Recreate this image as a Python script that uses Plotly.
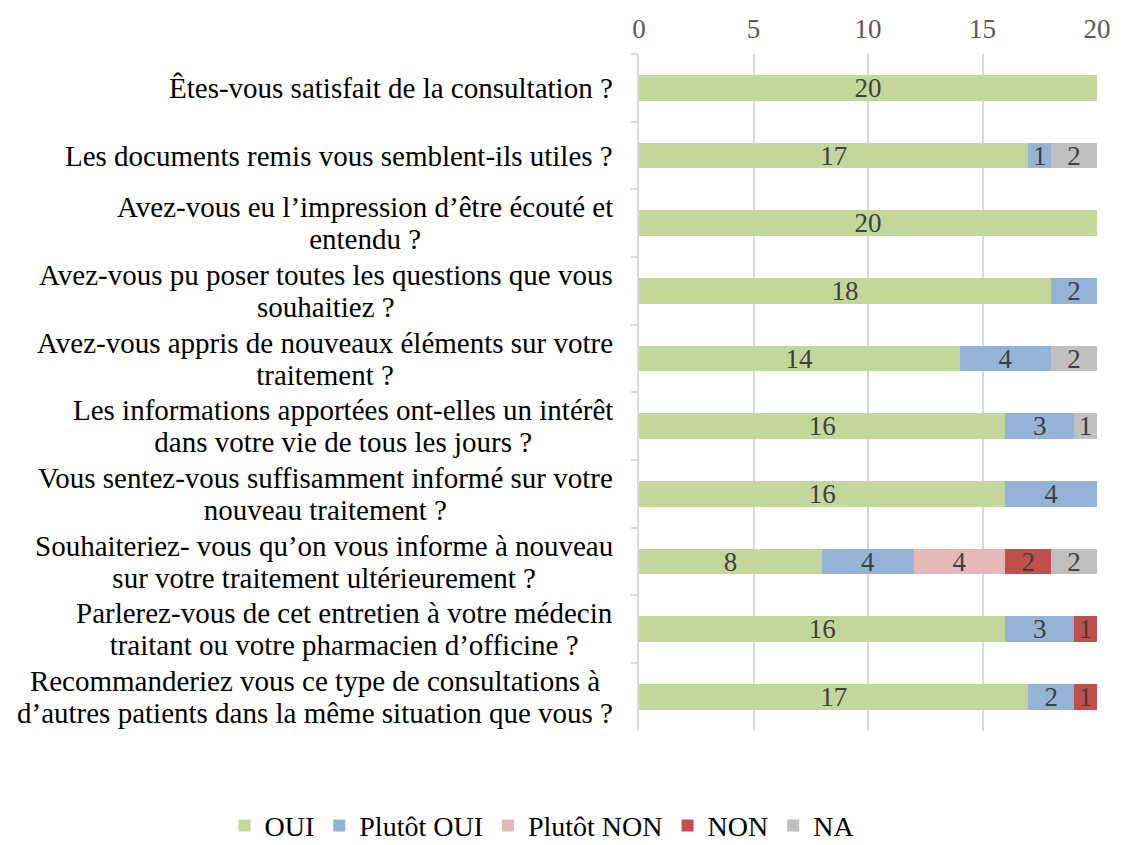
import plotly.graph_objects as go

categories = [
    "Êtes-vous satisfait de la consultation ?",
    "Les documents remis vous semblent-ils utiles ?",
    "Avez-vous eu l’impression d’être écouté et<br>entendu ?",
    "Avez-vous pu poser toutes les questions que vous<br>souhaitiez ?",
    "Avez-vous appris de nouveaux éléments sur votre<br>traitement ?",
    "Les informations apportées ont-elles un intérêt<br>dans votre vie de tous les jours ?",
    "Vous sentez-vous suffisamment informé sur votre<br>nouveau traitement ?",
    "Souhaiteriez- vous qu’on vous informe à nouveau<br>sur votre traitement ultérieurement ?",
    "Parlerez-vous de cet entretien à votre médecin<br>traitant ou votre pharmacien d’officine ?",
    "Recommanderiez vous ce type de consultations à<br>d’autres patients dans la même situation que vous ?",
]

oui = [20, 17, 20, 18, 14, 16, 16, 8, 16, 17]
plutot_oui = [0, 1, 0, 2, 4, 3, 4, 4, 3, 2]
plutot_non = [0, 0, 0, 0, 0, 0, 0, 4, 0, 0]
non = [0, 0, 0, 0, 0, 0, 0, 2, 1, 1]
na = [0, 2, 0, 0, 2, 1, 0, 2, 0, 0]

series = [
    ("OUI", oui, "#c4d79b"),
    ("Plutôt OUI", plutot_oui, "#95b3d7"),
    ("Plutôt NON", plutot_non, "#e6b9b8"),
    ("NON", non, "#c0504d"),
    ("NA", na, "#bfbfbf"),
]

FONT = "Liberation Serif, Times New Roman, serif"

fig = go.Figure()
for name, vals, color in series:
    fig.add_trace(go.Bar(
        name=name,
        y=categories,
        x=vals,
        orientation="h",
        marker=dict(color=color, line=dict(width=0)),
        text=[str(v) if v else "" for v in vals],
        textposition="inside",
        insidetextanchor="middle",
        textangle=0,
        constraintext="none",
        insidetextfont=dict(family=FONT, size=27, color="#404040"),
        hoverinfo="x+name",
    ))

for c in categories:
    lines = c.split("<br>")
    txt = "<br>".join('<span style="font-size:29px">%s</span>' % ln for ln in lines)
    fig.add_annotation(
        x=0, xref="paper", y=c, yref="y",
        text=txt, showarrow=False,
        xanchor="right", yanchor="middle", align="center",
        xshift=-24,
        font=dict(family=FONT, size=24.5, color="#000000"),
    )

fig.update_layout(
    barmode="stack",
    bargap=0.62,
    width=1116, height=837,
    margin=dict(l=631, r=27, t=46, b=114, autoexpand=False),
    paper_bgcolor="white",
    plot_bgcolor="white",
    font=dict(family=FONT, size=27, color="#000000"),
    showlegend=True,
    legend=dict(
        orientation="h",
        x=-0.905, xanchor="left",
        y=-0.14, yanchor="middle",
        font=dict(family=FONT, size=28, color="#000000"),
        traceorder="normal",
    ),
    xaxis=dict(
        side="top",
        range=[0, 20],
        tick0=0, dtick=5,
        showgrid=True, gridcolor="#d9d9d9", gridwidth=1.5,
        zeroline=False,
        showline=False,
        ticks="",
        ticklabelstandoff=10,
        tickfont=dict(family=FONT, size=27, color="#595959"),
        fixedrange=True,
    ),
    yaxis=dict(
        autorange="reversed",
        showticklabels=False,
        showline=True, linecolor="#d9d9d9", linewidth=1.5,
        ticks="outside", ticklen=6, tickcolor="#d9d9d9", tickwidth=1.5,
        tickson="boundaries",
        showgrid=False,
        fixedrange=True,
    ),
)

fig.write_html("out.html")
